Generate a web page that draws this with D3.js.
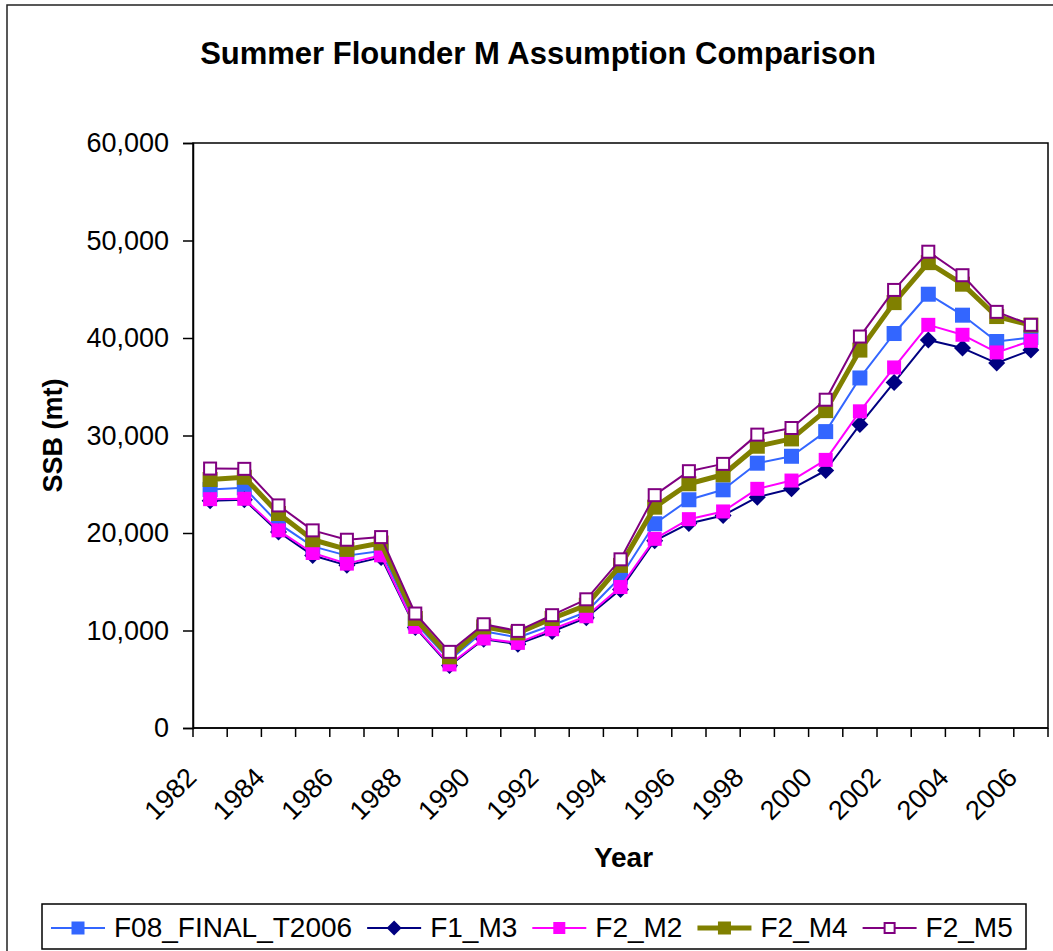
<!DOCTYPE html>
<html>
<head>
<meta charset="utf-8">
<script src="https://cdn.jsdelivr.net/npm/d3@7"></script>
<style>
  html, body { margin: 0; padding: 0; background: #fff; }
  svg { display: block; font-family: "Liberation Sans", Arial, sans-serif; }
</style>
</head>
<body>
<svg id="chart" width="1053" height="951"></svg>
<script>
// Spawning stock biomass (mt) under alternative natural mortality assumptions
const years = d3.range(1982, 2007);
const tickLabels = [1982, 1984, 1986, 1988, 1990, 1992, 1994, 1996, 1998, 2000, 2002, 2004, 2006];
const yTicks = [0, 10000, 20000, 30000, 40000, 50000, 60000];

const F08_FINAL_T2006 = [24460, 24640, 20980, 18630, 17680, 18150, 10780, 6960, 9930, 9280, 10540, 11900, 15490, 20950, 23410, 24430, 27160, 27870, 30400, 35900, 40460, 44490, 42340, 39640, 40050];
const F1_M3 = [23300, 23400, 20100, 17700, 16680, 17500, 10300, 6400, 9100, 8600, 9900, 11300, 14200, 19200, 20980, 21800, 23670, 24530, 26410, 31120, 35440, 39790, 38970, 37430, 38760];
const F2_M2 = [23470, 23510, 20270, 17950, 16860, 17710, 10370, 6520, 9180, 8730, 10130, 11460, 14460, 19400, 21420, 22210, 24530, 25380, 27500, 32480, 36980, 41350, 40330, 38520, 39710];
const F2_M4 = [25490, 25720, 22000, 19310, 18320, 18970, 11230, 7300, 10370, 9760, 11230, 12590, 16680, 22650, 25050, 25970, 28900, 29650, 32550, 38760, 43630, 47730, 45520, 42200, 41320];
const F2_M5 = [26610, 26580, 22830, 20270, 19310, 19580, 11740, 7810, 10640, 9960, 11570, 13200, 17300, 23880, 26340, 27090, 30090, 30770, 33670, 40150, 44930, 48850, 46440, 42680, 41350];

const seriesNames = ["F08_FINAL_T2006", "F1_M3", "F2_M2", "F2_M4", "F2_M5"];
const seriesValues = [F08_FINAL_T2006, F1_M3, F2_M2, F2_M4, F2_M5];

const styles = {
  F08_FINAL_T2006: { color: "#3366FF", width: 2, marker: "square", size: 15, fill: "#3366FF" },
  F1_M3:           { color: "#000080", width: 2, marker: "diamond", size: 15, fill: "#000080" },
  F2_M2:           { color: "#FF00FF", width: 2, marker: "square", size: 14, fill: "#FF00FF" },
  F2_M4:           { color: "#808000", width: 5, marker: "square", size: 15, fill: "#808000" },
  F2_M5:           { color: "#800080", width: 2, marker: "open", size: 12, fill: "#FFFFFF" }
};

const svg = d3.select("#chart");
const plot = { left: 193, right: 1048, top: 143, bottom: 728 };

// Chart frame
svg.append("rect")
  .attr("x", 7).attr("y", 5).attr("width", 1070).attr("height", 980)
  .attr("fill", "#fff").attr("stroke", "#222").attr("stroke-width", 1.5);

const x = d3.scaleBand().domain(years).range([plot.left, plot.right]).padding(0);
const y = d3.scaleLinear().domain([0, 60000]).range([plot.bottom, plot.top]);
const cx = d => x(d) + x.bandwidth() / 2;

// Plot area border
svg.append("rect")
  .attr("x", plot.left).attr("y", plot.top)
  .attr("width", plot.right - plot.left).attr("height", plot.bottom - plot.top)
  .attr("fill", "none").attr("stroke", "#000").attr("stroke-width", 1.5);

// Y axis
const yAxis = d3.axisLeft(y).tickValues(yTicks).tickSize(10).tickPadding(14)
  .tickFormat(d3.format(","));
const gy = svg.append("g").attr("transform", `translate(${plot.left},0)`).call(yAxis);
gy.select(".domain").attr("stroke", "#000").attr("stroke-width", 1.5);
gy.selectAll(".tick line").attr("stroke", "#000").attr("stroke-width", 1.5);
gy.selectAll(".tick text").attr("font-size", 27).attr("fill", "#000")
  .attr("font-family", "Liberation Sans, Arial, sans-serif");

// X axis: tick marks on category boundaries
const boundaries = years.map(d => x(d)).concat([plot.right]);
const gx = svg.append("g");
gx.append("line")
  .attr("x1", plot.left).attr("x2", plot.right)
  .attr("y1", plot.bottom).attr("y2", plot.bottom)
  .attr("stroke", "#000").attr("stroke-width", 1.5);
gx.selectAll("line.tk").data(boundaries).join("line")
  .attr("class", "tk")
  .attr("x1", d => d).attr("x2", d => d)
  .attr("y1", plot.bottom).attr("y2", plot.bottom + 9)
  .attr("stroke", "#000").attr("stroke-width", 1.5);
gx.selectAll("text").data(tickLabels).join("text")
  .attr("transform", d => `translate(${cx(d) - 12},${plot.bottom + 51}) rotate(-45)`)
  .attr("text-anchor", "end")
  .attr("font-size", 27)
  .attr("fill", "#000")
  .text(d => d);

// Series lines and markers, in series order
const line = d3.line().x((d, i) => cx(years[i])).y(d => y(d));

function drawMarker(g, st, px, py) {
  const s = st.size;
  if (st.marker === "diamond") {
    const h = s / 2 + 1;
    g.append("path")
      .attr("d", `M${px},${py - h}L${px + h},${py}L${px},${py + h}L${px - h},${py}Z`)
      .attr("fill", st.fill);
  } else if (st.marker === "open") {
    g.append("rect")
      .attr("x", px - s / 2).attr("y", py - s / 2).attr("width", s).attr("height", s)
      .attr("fill", st.fill).attr("stroke", st.color).attr("stroke-width", 2);
  } else {
    g.append("rect")
      .attr("x", px - s / 2).attr("y", py - s / 2).attr("width", s).attr("height", s)
      .attr("fill", st.fill);
  }
}

seriesNames.forEach((name, k) => {
  const st = styles[name];
  const vals = seriesValues[k];
  const g = svg.append("g").attr("class", "series");
  g.append("path")
    .attr("d", line(vals))
    .attr("fill", "none")
    .attr("stroke", st.color)
    .attr("stroke-width", st.width)
    .attr("stroke-linejoin", "round");
  vals.forEach((v, i) => drawMarker(g, st, cx(years[i]), y(v)));
});

// Titles
svg.append("text")
  .attr("x", 538).attr("y", 64)
  .attr("text-anchor", "middle")
  .attr("font-size", 31).attr("font-weight", "bold")
  .text("Summer Flounder M Assumption Comparison");

svg.append("text")
  .attr("x", (plot.left + plot.right) / 2 + 3).attr("y", 867)
  .attr("text-anchor", "middle")
  .attr("font-size", 28).attr("font-weight", "bold")
  .text("Year");

svg.append("text")
  .attr("transform", `translate(62,${(plot.top + plot.bottom) / 2}) rotate(-90)`)
  .attr("text-anchor", "middle")
  .attr("font-size", 27).attr("font-weight", "bold")
  .text("SSB (mt)");

// Legend
const legend = svg.append("g");
legend.append("rect")
  .attr("x", 42).attr("y", 904).attr("width", 984).attr("height", 45)
  .attr("fill", "#fff").attr("stroke", "#000").attr("stroke-width", 1.5);

let lx = 51;
const ly = 928;
seriesNames.forEach(name => {
  const st = styles[name];
  const g = legend.append("g");
  g.append("line")
    .attr("x1", lx).attr("x2", lx + 54)
    .attr("y1", ly).attr("y2", ly)
    .attr("stroke", st.color).attr("stroke-width", st.width);
  drawMarker(g, Object.assign({}, st, { size: st.marker === "open" ? 10 : st.size - 2 }), lx + 27, ly);
  const t = g.append("text")
    .attr("x", lx + 63).attr("y", 937)
    .attr("font-size", 28)
    .attr("fill", "#000")
    .text(name);
  lx += 63 + t.node().getComputedTextLength() + 15;
});
</script>
</body>
</html>
